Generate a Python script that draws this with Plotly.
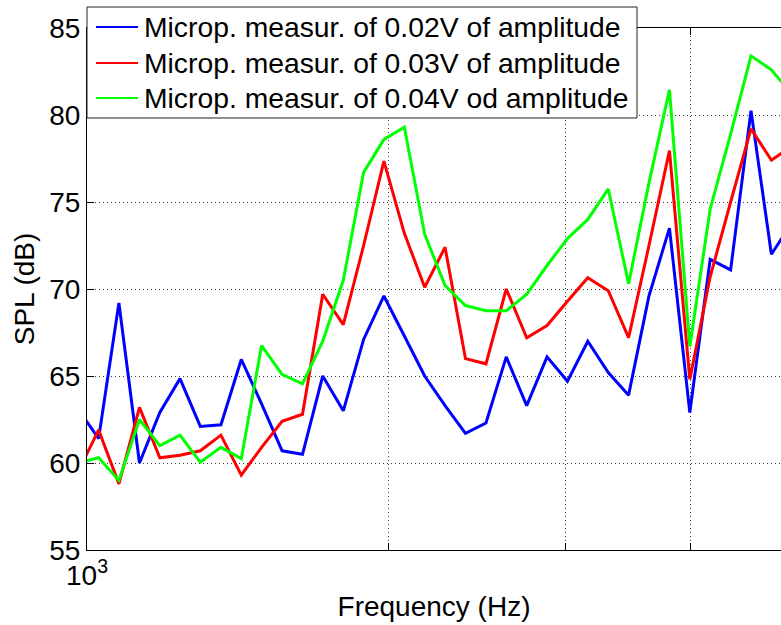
import plotly.graph_objects as go

# Frequency points (Hz), fractional-octave spacing
freq_hz = [980, 1027, 1076, 1128, 1182, 1238, 1297, 1360, 1425, 1493, 1565, 1640,
           1718, 1801, 1887, 1977, 2072, 2171, 2275, 2384, 2499, 2618, 2744, 2875,
           3013, 3157, 3309, 3467, 3633, 3808, 3990, 4181, 4382, 4592, 4812, 5042]

# Measured SPL (dB) for each excitation amplitude
spl_002v = [63.1, 61.4, 69.2, 60.0, 62.9, 64.85, 62.1, 62.2, 65.95, 63.4, 60.7, 60.5,
            65.0, 63.0, 67.1, 69.6, 67.3, 65.0, 63.3, 61.7, 62.3, 66.1, 63.3, 66.1,
            64.7, 67.0, 65.2, 63.9, 69.6, 73.5, 62.9, 71.7, 71.1, 80.25, 72.0, 73.8]
spl_003v = [59.5, 61.9, 58.8, 63.2, 60.3, 60.45, 60.7, 61.6, 59.3, 60.9, 62.4, 62.8,
            69.7, 67.95, 72.5, 77.35, 73.2, 70.1, 72.4, 66.0, 65.7, 70.0, 67.2, 67.9,
            69.3, 70.65, 69.9, 67.2, 72.5, 77.95, 64.8, 70.7, 75.0, 79.2, 77.4, 78.2]
spl_004v = [60.0, 60.3, 59.0, 62.5, 61.0, 61.6, 60.05, 60.9, 60.25, 66.75, 65.1, 64.55,
            67.0, 70.5, 76.7, 78.6, 79.3, 73.15, 70.2, 69.05, 68.75, 68.75, 69.7, 71.35,
            72.9, 74.0, 75.75, 70.3, 76.1, 81.45, 66.7, 74.6, 78.9, 83.4, 82.6, 81.2]

series_names = ["Microp. measur. of 0.02V of amplitude",
                "Microp. measur. of 0.03V of amplitude",
                "Microp. measur. of 0.04V od amplitude"]
series_colors = ["#0000ff", "#ff0000", "#00ff00"]

x_tickvals = [1000, 2000, 3000, 4000]
x_ticktext = ["10<sup>3</sup>", "", "", ""]
y_tickvals = [55, 60, 65, 70, 75, 80, 85]

FONT = "Liberation Sans, Arial, Helvetica, sans-serif"
FS = 28
FS_LEGEND = 28.3

# Figure geometry (pixels)
W, H = 781, 625
M_L, M_R, M_T, M_B = 87, 0, 28, 75
PW, PH = W - M_L - M_R, H - M_T - M_B


def px_x(px):
    """Horizontal pixel position -> paper coordinate."""
    return (px - M_L) / PW


def px_y(py):
    """Vertical pixel position (from top) -> paper coordinate."""
    return (H - M_B - py) / PH


fig = go.Figure()
for name, color, ys in zip(series_names, series_colors, [spl_002v, spl_003v, spl_004v]):
    fig.add_trace(go.Scatter(x=freq_hz, y=ys, mode="lines", name=name,
                             line=dict(color=color, width=3), showlegend=False))

# Boxed legend in the upper-left corner, overlapping the top frame
shapes = [dict(type="rect", xref="paper", yref="paper",
               x0=px_x(87), x1=px_x(637), y0=px_y(118), y1=px_y(7),
               fillcolor="white", line=dict(color="#222222", width=1), layer="above")]
annotations = []
legend_rows = [27, 63, 98]
for name, color, row in zip(series_names, series_colors, legend_rows):
    shapes.append(dict(type="line", xref="paper", yref="paper",
                       x0=px_x(96), x1=px_x(138), y0=px_y(row), y1=px_y(row),
                       line=dict(color=color, width=2), layer="above"))
    annotations.append(dict(xref="paper", yref="paper", x=px_x(143), y=px_y(row),
                            xanchor="left", yanchor="middle", showarrow=False,
                            text=name, borderpad=0,
                            font=dict(family=FONT, size=FS_LEGEND, color="black")))

fig.update_layout(
    width=W, height=H,
    margin=dict(l=M_L, r=M_R, t=M_T, b=M_B),
    paper_bgcolor="white", plot_bgcolor="white",
    font=dict(family=FONT, size=FS, color="black"),
    showlegend=False,
    shapes=shapes,
    annotations=annotations,
)

fig.update_xaxes(
    type="log", range=[3, 3.6919],
    tickmode="array", tickvals=x_tickvals, ticktext=x_ticktext,
    ticks="inside", ticklen=7, tickcolor="black", tickwidth=1,
    showline=True, linecolor="black", linewidth=1, mirror="ticks",
    showgrid=True, gridcolor="#3c3c3c", gridwidth=1, griddash="1px,3px",
    zeroline=False,
    title=dict(text="Frequency (Hz)", standoff=6,
               font=dict(family=FONT, size=FS, color="black")),
    tickfont=dict(family=FONT, size=FS, color="black"),
)
fig.update_yaxes(
    range=[55, 85], tickmode="array", tickvals=y_tickvals,
    ticks="inside", ticklen=7, tickcolor="black", tickwidth=1,
    showline=True, linecolor="black", linewidth=1, mirror=False,
    showgrid=True, gridcolor="#3c3c3c", gridwidth=1, griddash="1px,3px",
    zeroline=False,
    title=dict(text="SPL (dB)", standoff=6,
               font=dict(family=FONT, size=FS, color="black")),
    tickfont=dict(family=FONT, size=FS, color="black"),
)

fig.write_html("out.html")
